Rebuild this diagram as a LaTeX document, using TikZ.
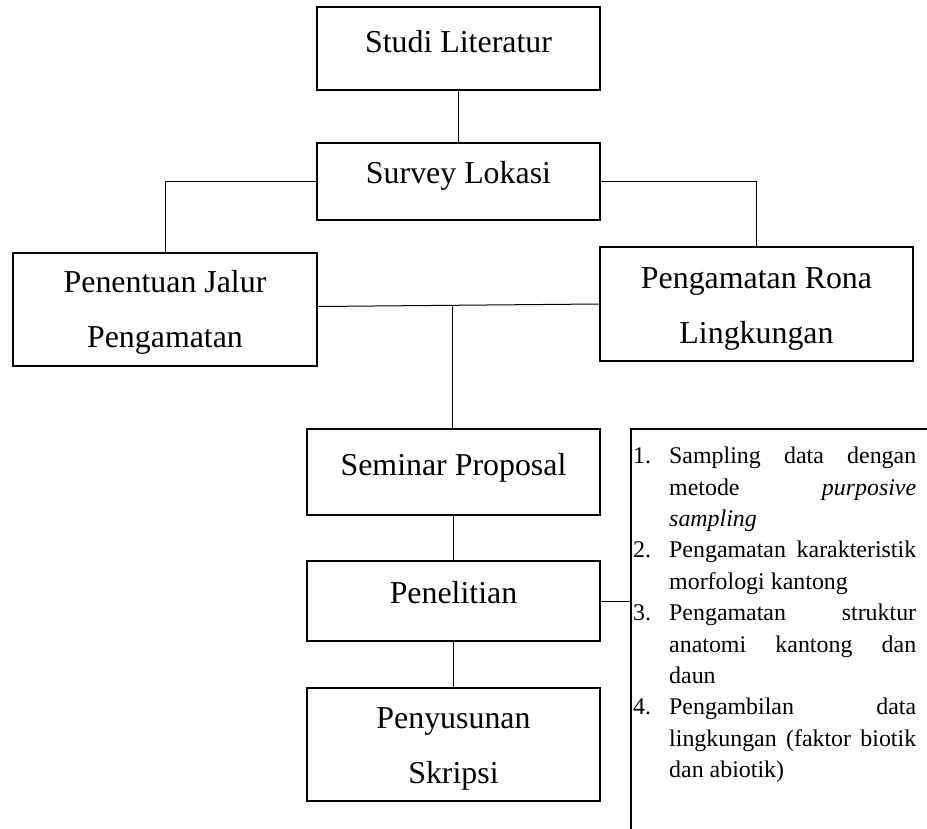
\documentclass[tikz,border=0pt]{standalone}
\usepackage{fontspec}
\setmainfont{Liberation Serif}
\begin{document}
\begin{tikzpicture}[x=1bp,y=-1bp]
\tikzset{
  box/.style={draw, line width=2.2bp, rectangle, inner sep=0pt},
  lbl/.style={font=\fontsize{32}{38}\selectfont, inner sep=0pt, anchor=base},
  conn/.style={line width=1bp},
  frameline/.style={line width=2bp},
  listtext/.style={font=\fontsize{24}{31.5}\selectfont, text width=283bp, align=justify, inner sep=0pt, anchor=north west}
}
\useasboundingbox (0,0) rectangle (927,829);

% boxes
\node[box, minimum width=283bp, minimum height=83bp] (studi) at (458.5,48.5) {};
\node[box, minimum width=283bp, minimum height=77bp] (survey) at (458.5,181.5) {};
\node[box, minimum width=304bp, minimum height=113bp] (penentuan) at (165,309.5) {};
\node[box, minimum width=313bp, minimum height=114bp] (rona) at (756.5,304) {};
\node[box, minimum width=293bp, minimum height=86bp] (seminar) at (453.5,472) {};
\node[box, minimum width=293bp, minimum height=80bp] (penelitian) at (453.5,601) {};
\node[box, minimum width=293bp, minimum height=113bp] (penyusunan) at (453.5,744.5) {};

% labels
\node[lbl] (studiT) at (458.5,52) {Studi Literatur};
\node[lbl] (surveyT) at (458.5,183) {Survey Lokasi};
\node[lbl] (penentuanT1) at (165,292) {Penentuan Jalur};
\node[lbl] (penentuanT2) at (165,347) {Pengamatan};
\node[lbl] (ronaT1) at (756.5,288) {Pengamatan Rona};
\node[lbl] (ronaT2) at (756.5,343) {Lingkungan};
\node[lbl] (seminarT) at (453.5,475) {Seminar Proposal};
\node[lbl] (penelitianT) at (453.5,603) {Penelitian};
\node[lbl] (penyusunanT1) at (453.5,728) {Penyusunan};
\node[lbl] (penyusunanT2) at (453.5,783) {Skripsi};

% connectors
\draw[conn] (studi) -- (survey);
\draw[conn] (survey.west) -| (penentuan.north);
\draw[conn] (survey.east) -| (rona.north);
\draw[conn] ([yshift=3bp]penentuan.east) -- (rona.west) coordinate[pos=0.48] (j);
\draw[conn] (j) -- (j |- seminar.north);
\draw[conn] (seminar) -- (penelitian);
\draw[conn] (penelitian) -- (penyusunan);

% list frame (open at right and bottom)
\coordinate (ftop) at (631,429);
\coordinate (fbl) at (631,833);
\coordinate (ftr) at (931,429);
\draw[frameline] (fbl) -- (ftop) -- (ftr);
\draw[conn] (penelitian.east) -- (penelitian.east -| ftop);

% list text
\node[listtext] (list) at (633,447) {%
\parindent=0pt \parskip=0pt \hyphenpenalty=10000 \exhyphenpenalty=10000
\hangindent=36bp\hangafter=1 \makebox[36bp][l]{1.}Sampling data dengan\linebreak metode \textit{purposive}\linebreak \textit{sampling}\par
\hangindent=36bp\hangafter=1 \makebox[36bp][l]{2.}Pengamatan karakteristik\linebreak morfologi kantong\par
\hangindent=36bp\hangafter=1 \makebox[36bp][l]{3.}Pengamatan struktur\linebreak anatomi kantong dan\linebreak daun\par
\hangindent=36bp\hangafter=1 \makebox[36bp][l]{4.}Pengambilan data\linebreak lingkungan (faktor biotik\linebreak dan abiotik)\par};
\end{tikzpicture}
\end{document}
